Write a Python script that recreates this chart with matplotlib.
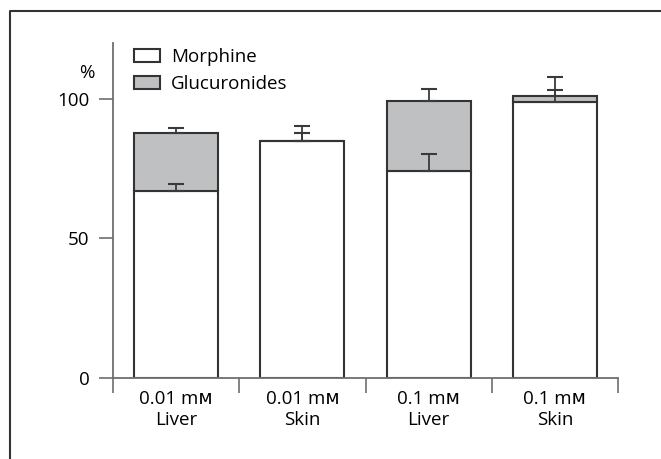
import matplotlib

matplotlib.use("Agg")
import matplotlib.pyplot as plt
from matplotlib.lines import Line2D
from matplotlib.patches import Patch
import numpy as np

plt.rcParams["font.family"] = ["Open Sans", "DejaVu Sans"]

categories = ["0.01 m\u1d0d\nLiver", "0.01 m\u1d0d\nSkin", "0.1 m\u1d0d\nLiver", "0.1 m\u1d0d\nSkin"]
morphine = [67.1, 85.0, 74.0, 98.9]
glucuronides = [20.8, 0.0, 25.3, 2.2]
morphine_err = [2.4, 2.8, 6.3, 4.1]
total_err = [1.5, 5.3, 4.2, 6.8]

EDGE = "#333333"
GREY = "#bfc0c2"
AXIS = "#6e6e6e"
FS = 13.5

W, H = 661, 459
fig = plt.figure(figsize=(W / 100, H / 100), dpi=100)
ax = fig.add_axes([113 / W, (H - 378) / H, (618 - 113) / W, (378 - 43) / H])

x = np.arange(len(categories))
total = np.add(morphine, glucuronides)
bw = 0.665
ax.bar(x, morphine, bw, color="white", edgecolor=EDGE, linewidth=1.5, zorder=2)
ax.bar(x, glucuronides, bw, bottom=morphine, color=GREY, edgecolor=EDGE, linewidth=1.5, zorder=2)

ekw = dict(fmt="none", ecolor="#3a3a3a", elinewidth=1.3, capsize=6, capthick=1.5, zorder=3)
ax.errorbar(x, morphine, yerr=[np.zeros(4), morphine_err], **ekw)
ax.errorbar(x, total, yerr=[np.zeros(4), total_err], **ekw)

ax.set_xlim(-0.5, len(categories) - 0.5)
ax.set_ylim(0, 120)
ax.set_yticks([0, 50, 100])
ax.set_xticks(x)
ax.set_xticklabels(categories, fontsize=FS, linespacing=1.2)
ax.set_xticks(np.arange(len(categories) + 1) - 0.5, minor=True)
ax.tick_params(axis="x", which="major", length=0, pad=9)
ax.tick_params(axis="x", which="minor", length=11, width=1.2, color=AXIS)
ax.tick_params(axis="y", length=10, width=1.2, color=AXIS, labelsize=FS, pad=7)

for s in ["top", "right"]:
    ax.spines[s].set_visible(False)
for s in ["left", "bottom"]:
    ax.spines[s].set_color(AXIS)
    ax.spines[s].set_linewidth(1.3)

ax.text(-0.052, 0.91, "%", transform=ax.transAxes, ha="center", va="center", fontsize=FS)

handles = [
    Patch(facecolor="white", edgecolor=EDGE, linewidth=1.5, label="Morphine"),
    Patch(facecolor=GREY, edgecolor=EDGE, linewidth=1.5, label="Glucuronides"),
]
ax.legend(handles=handles, loc="upper left", bbox_to_anchor=(0.042, 0.985), frameon=False,
          fontsize=FS, handlelength=1.4, handleheight=0.7, handletextpad=0.55, labelspacing=0.5,
          borderaxespad=0, borderpad=0)

# outer frame (left and top edges only)
fig.add_artist(Line2D([9.5 / W, 9.5 / W, 1], [0, 1 - 10.5 / H, 1 - 10.5 / H],
                      transform=fig.transFigure, color="#333333", linewidth=1.5))

fig.savefig("out.png", dpi=100)
